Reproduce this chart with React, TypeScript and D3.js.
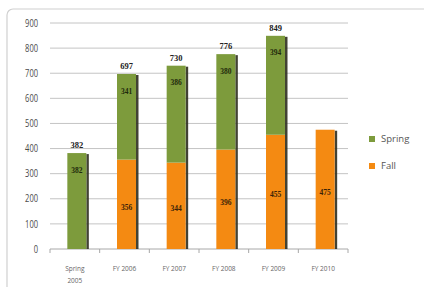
import React from "react";
import * as d3 from "d3";

const categories = ["Spring 2005", "FY 2006", "FY 2007", "FY 2008", "FY 2009", "FY 2010"];
const categoryLines = [["Spring", "2005"], ["FY 2006"], ["FY 2007"], ["FY 2008"], ["FY 2009"], ["FY 2010"]];
const fallValues = [0, 356, 344, 396, 455, 475];
const springValues = [382, 341, 386, 380, 394, 0];
const totalLabels = [382, 697, 730, 776, 849, null];
const yTicks = [0, 100, 200, 300, 400, 500, 600, 700, 800, 900];
const seriesNames = ["Spring", "Fall"];

const GREEN = "#7d9b3c";
const ORANGE = "#f48a12";

export default function App() {
  const W = 424, H = 287;
  const x = d3.scaleBand<string>().domain(categories).range([50, 348]);
  const y = d3.scaleLinear().domain([0, 900]).range([249, 23]);
  const bw = 19;
  const sans = "'Open Sans', 'Liberation Sans', sans-serif";
  const serif = "'Liberation Serif', 'DejaVu Serif', serif";

  return (
    <svg width={W} height={H} style={{ position: "absolute", left: 0, top: 0, background: "#fff" }}>
      <rect x={7} y={9} width={430} height={300} rx={6} fill="#fff" stroke="#d0d0d0" strokeWidth={1.2} />
      {yTicks.map((t) => (
        <g key={t}>
          <line x1={50} x2={348} y1={y(t)} y2={y(t)} stroke={t === 0 ? "#a8a8a8" : "#c4c4c4"} strokeWidth={1} />
          <text x={38} y={y(t)} dy="0.35em" textAnchor="end" fontSize={10.5} fill="#4a4a4a" fontFamily={sans}
            textLength={String(t).length * 4.3} lengthAdjust="spacingAndGlyphs">{t}</text>
        </g>
      ))}
      {categories.map((c, i) => (
        <line key={"tk" + i} x1={x(c)!} x2={x(c)!} y1={249} y2={253} stroke="#a8a8a8" />
      ))}
      <line x1={348} x2={348} y1={249} y2={253} stroke="#a8a8a8" />
      {categories.map((c, i) => {
        const cx = x(c)! + x.bandwidth() / 2 + 2;
        const x0 = cx - bw / 2;
        const f = fallValues[i];
        const s = springValues[i];
        const top = y(f + s);
        return (
          <g key={c}>
            <rect x={x0 + bw} y={top + 1} width={2.5} height={249 - top - 1} fill="#2e2e1e" opacity={0.9} />
            {f > 0 && <rect x={x0} y={y(f)} width={bw} height={249 - y(f)} fill={ORANGE} />}
            {s > 0 && <rect x={x0} y={y(f + s)} width={bw} height={y(f) - y(f + s)} fill={GREEN} />}
            {f > 0 && (
              <text x={cx} y={(y(f) + 249) / 2 + 3} dy="0.35em" textAnchor="middle" fontSize={7.5}
                fontWeight="bold" fill="#3a2308" fontFamily={serif}>{f}</text>
            )}
            {s > 0 && (
              <text x={cx} y={y(f + s) + 17} dy="0.35em" textAnchor="middle" fontSize={7.5}
                fontWeight="bold" fill="#1f2a0c" fontFamily={serif}>{s}</text>
            )}
            {totalLabels[i] !== null && (
              <text x={cx} y={top - 8} dy="0.35em" textAnchor="middle" fontSize={8.5}
                fontWeight="bold" fill="#222" fontFamily={serif}>{totalLabels[i]}</text>
            )}
            {categoryLines[i].map((ln, j) => (
              <text key={j} x={cx - 2} y={269 + j * 12} dy="0.35em" textAnchor="middle" fontSize={6.5}
                fill="#666" fontFamily={sans}>{ln}</text>
            ))}
          </g>
        );
      })}
      {seriesNames.map((n, i) => (
        <g key={n}>
          <rect x={369} y={136 + i * 27} width={6} height={6} fill={i === 0 ? GREEN : ORANGE} />
          <text x={381} y={139 + i * 27} dy="0.35em" fontSize={9.5} fill="#555" fontFamily={sans}>{n}</text>
        </g>
      ))}
    </svg>
  );
}
